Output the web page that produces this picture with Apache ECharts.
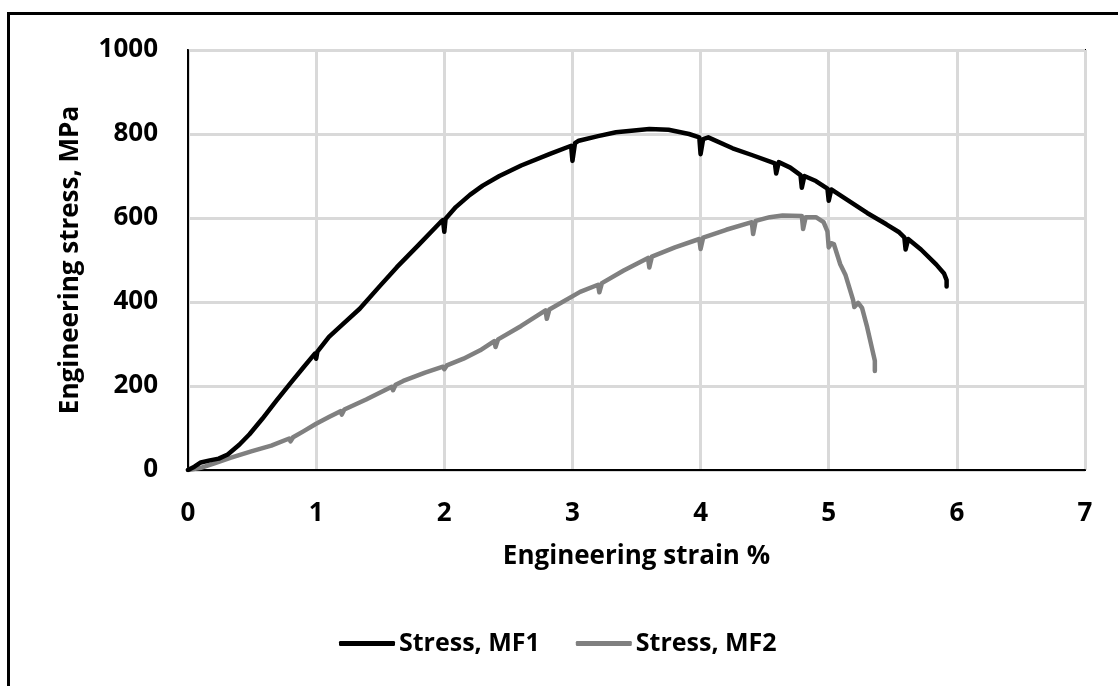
<!DOCTYPE html>
<html>
<head>
<meta charset="utf-8">
<script src="https://cdn.jsdelivr.net/npm/echarts@6/dist/echarts.min.js"></script>
<style>
html,body{margin:0;padding:0;background:#fff;}
#c{width:1118px;height:686px;}
</style>
</head>
<body>
<div id="c"></div>
<script>
var seriesNames = ['Stress, MF1', 'Stress, MF2'];
var xTicks = [0, 1, 2, 3, 4, 5, 6, 7];
var yTicks = [0, 200, 400, 600, 800, 1000];
var mf1 = [[0,0],[0.05,8],[0.1,18],[0.17,23],[0.24,27],[0.31,37],[0.4,60],[0.48,85],[0.58,122],[0.69,165],[0.8,207],[0.9,244],[0.99,277],[1.0,265],[1.01,282],[1.1,317],[1.2,345],[1.34,384],[1.5,439],[1.63,483],[1.8,536],[1.97,590],[1.99,595],[2.0,567],[2.01,598],[2.09,626],[2.2,655],[2.3,677],[2.43,700],[2.6,725],[2.82,752],[2.99,772],[3.0,736],[3.02,778],[3.05,784],[3.2,795],[3.34,804],[3.6,812],[3.75,810],[3.91,800],[3.99,792],[4.0,752],[4.02,788],[4.06,792],[4.25,766],[4.4,750],[4.58,730],[4.59,706],[4.61,733],[4.7,720],[4.78,702],[4.79,672],[4.81,700],[4.9,688],[4.99,670],[5.0,641],[5.02,668],[5.1,652],[5.3,612],[5.45,585],[5.55,566],[5.59,554],[5.6,525],[5.62,550],[5.72,525],[5.84,489],[5.9,468],[5.92,452],[5.92,437]];
var mf2 = [[0,0],[0.1,5],[0.2,15],[0.33,29],[0.5,45],[0.65,58],[0.79,75],[0.8,68],[0.82,78],[0.9,92],[1.0,110],[1.1,126],[1.19,140],[1.2,132],[1.22,144],[1.39,168],[1.59,198],[1.6,190],[1.62,203],[1.68,212],[1.85,232],[1.99,246],[2.0,240],[2.02,249],[2.15,265],[2.28,285],[2.39,307],[2.4,293],[2.42,311],[2.6,343],[2.79,380],[2.8,360],[2.82,382],[3.06,424],[3.2,441],[3.21,423],[3.23,445],[3.4,475],[3.59,505],[3.6,482],[3.62,508],[3.8,530],[3.99,550],[4.0,526],[4.02,553],[4.2,572],[4.4,590],[4.41,562],[4.43,593],[4.54,602],[4.64,606],[4.79,605],[4.8,574],[4.82,602],[4.9,602],[4.96,590],[4.99,568],[5.0,530],[5.02,540],[5.04,538],[5.09,490],[5.13,465],[5.19,405],[5.2,388],[5.23,398],[5.26,386],[5.3,340],[5.33,300],[5.36,260],[5.36,236]];

var FONT = '"Open Sans", "Noto Sans", sans-serif';
var chart = echarts.init(document.getElementById('c'), null, {renderer: 'canvas'});
chart.setOption({
  animation: false,
  backgroundColor: '#fff',
  textStyle: {fontFamily: FONT, fontWeight: 'bold', color: '#000'},
  graphic: [
    {type: 'line', shape: {x1: 8, y1: 13.5, x2: 1118, y2: 13.5}, style: {stroke: '#000', lineWidth: 3}},
    {type: 'line', shape: {x1: 8.5, y1: 12, x2: 8.5, y2: 686}, style: {stroke: '#000', lineWidth: 3}}
  ],
  grid: {left: 188, top: 50, right: 33, bottom: 216, show: true, borderColor: '#000', borderWidth: 2, backgroundColor: 'transparent'},
  legend: {
    left: 334, top: 626,
    itemWidth: 56, itemHeight: 5, itemGap: 36,
    icon: 'roundRect',
    textStyle: {fontFamily: FONT, fontWeight: 'bold', fontSize: 25, color: '#000', padding: [0,0,0,-1]},
    data: seriesNames
  },
  xAxis: {
    type: 'value', min: xTicks[0], max: xTicks[xTicks.length-1], interval: 1,
    name: 'Engineering strain %', nameLocation: 'middle', nameGap: 74,
    nameTextStyle: {fontFamily: FONT, fontWeight: 'bold', fontSize: 26, color: '#000'},
    axisLine: {show: true, lineStyle: {color: '#000', width: 2}},
    axisTick: {show: false},
    axisLabel: {fontFamily: FONT, fontWeight: 'bold', fontSize: 26, color: '#000', margin: 31,
      formatter: function (v) { return String(v); }},
    splitLine: {show: true, lineStyle: {color: '#d9d9d9', width: 3}}
  },
  yAxis: {
    type: 'value', min: yTicks[0], max: yTicks[yTicks.length-1], interval: 200,
    name: 'Engineering stress, MPa', nameLocation: 'middle', nameGap: 104, nameRotate: 90,
    nameTextStyle: {fontFamily: FONT, fontWeight: 'bold', fontSize: 26, color: '#000'},
    axisLine: {show: true, lineStyle: {color: '#000', width: 2}},
    axisTick: {show: false},
    axisLabel: {fontFamily: FONT, fontWeight: 'bold', fontSize: 26, color: '#000', margin: 30,
      formatter: function (v) { return String(v); }},
    splitLine: {show: true, lineStyle: {color: '#d9d9d9', width: 3}}
  },
  series: [
    {name: seriesNames[0], type: 'line', data: mf1, showSymbol: false, symbol: 'none', z: 3,
     lineStyle: {color: '#000', width: 4.5, join: 'round', cap: 'round'}, itemStyle: {color: '#000'}},
    {name: seriesNames[1], type: 'line', data: mf2, showSymbol: false, symbol: 'none', z: 2,
     lineStyle: {color: '#808080', width: 4.5, join: 'round', cap: 'round'}, itemStyle: {color: '#808080'}}
  ]
});
</script>
</body>
</html>
